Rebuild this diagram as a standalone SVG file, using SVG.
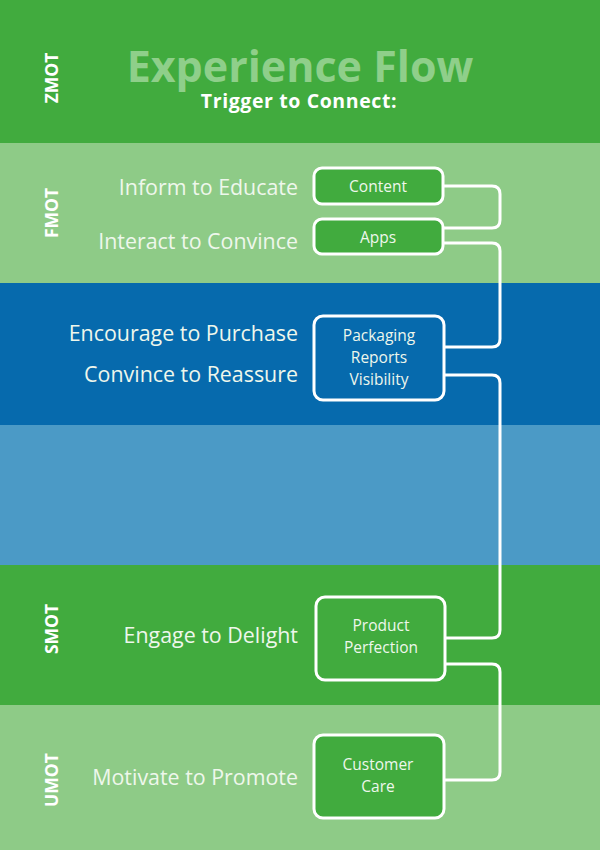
<svg xmlns="http://www.w3.org/2000/svg" width="600" height="850" viewBox="0 0 600 850">
<style>
.lbl{font-family:"Open Sans","Liberation Sans",sans-serif;font-size:21.4px;fill:#eef7ec;text-anchor:end}
.side{font-family:"Open Sans","Liberation Sans",sans-serif;font-size:17.5px;font-weight:bold;fill:#ffffff;text-anchor:middle}
.box{stroke:#ffffff;stroke-width:3}
.bt{font-family:"Open Sans","Liberation Sans",sans-serif;font-size:15.5px;fill:#eef7ec;text-anchor:middle}
.con{fill:none;stroke:#ffffff;stroke-width:3}
</style>
<g id="bands">
<rect x="0" y="0" width="600" height="143" fill="#41ab3e"/>
<rect x="0" y="143" width="600" height="140" fill="#8ecb87"/>
<rect x="0" y="283" width="600" height="142" fill="#066aad"/>
<rect x="0" y="425" width="600" height="140" fill="#4b9ac6"/>
<rect x="0" y="565" width="600" height="140" fill="#41ab3e"/>
<rect x="0" y="705" width="600" height="145" fill="#8ecb87"/>
</g>
<g id="title">
<text x="300" y="82" text-anchor="middle" font-family="Open Sans, Liberation Sans, sans-serif" font-size="43" font-weight="bold" fill="#8fcf8a">Experience Flow</text>
<text x="299" y="108" text-anchor="middle" font-family="Open Sans, Liberation Sans, sans-serif" font-size="19.5" font-weight="bold" letter-spacing="0.6" fill="#ffffff">Trigger to Connect:</text>
</g>
<g id="side-labels">
<text class="side" transform="translate(58,78) rotate(-90)">ZMOT</text>
<text class="side" transform="translate(58,213) rotate(-90)">FMOT</text>
<text class="side" transform="translate(58,629) rotate(-90)">SMOT</text>
<text class="side" transform="translate(58,780) rotate(-90)">UMOT</text>
</g>
<g id="stage-labels">
<text class="lbl" x="298" y="195">Inform to Educate</text>
<text class="lbl" x="298" y="249">Interact to Convince</text>
<text class="lbl" x="298" y="341">Encourage to Purchase</text>
<text class="lbl" x="298" y="382">Convince to Reassure</text>
<text class="lbl" x="298" y="643">Engage to Delight</text>
<text class="lbl" x="298" y="785">Motivate to Promote</text>
</g>
<g id="connectors">
<path class="con" d="M443,186 H492 Q500,186 500,194 V220 Q500,228 492,228 H443"/>
<path class="con" d="M443,243 H492 Q500,243 500,251 V339 Q500,347 492,347 H445"/>
<path class="con" d="M445,375 H492 Q500,375 500,383 V630 Q500,638 492,638 H445"/>
<path class="con" d="M445,664 H492 Q500,664 500,672 V772 Q500,780 492,780 H445"/>
</g>
<g id="node-content">
<rect class="box" x="314" y="168" width="129" height="36" rx="8" fill="#41ab3e"/>
<text class="bt" x="378" y="192">Content</text>
</g>
<g id="node-apps">
<rect class="box" x="314" y="219" width="129" height="35" rx="8" fill="#41ab3e"/>
<text class="bt" x="378" y="243">Apps</text>
</g>
<g id="node-packaging">
<rect class="box" x="314" y="316" width="130" height="84" rx="9" fill="#066aad"/>
<text class="bt" x="379" y="341">Packaging</text>
<text class="bt" x="379" y="363">Reports</text>
<text class="bt" x="379" y="385">Visibility</text>
</g>
<g id="node-product">
<rect class="box" x="316" y="597" width="129" height="83" rx="9" fill="#41ab3e"/>
<text class="bt" x="381" y="631">Product</text>
<text class="bt" x="381" y="653">Perfection</text>
</g>
<g id="node-care">
<rect class="box" x="314" y="735" width="130" height="83" rx="9" fill="#41ab3e"/>
<text class="bt" x="378" y="770">Customer</text>
<text class="bt" x="378" y="792">Care</text>
</g>
</svg>
